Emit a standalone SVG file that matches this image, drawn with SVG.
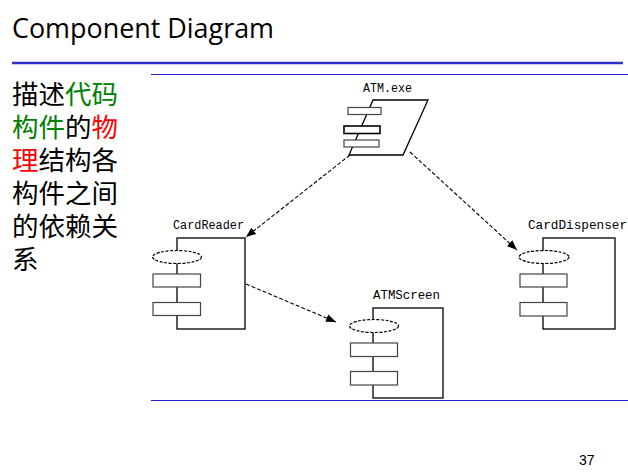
<svg xmlns="http://www.w3.org/2000/svg" width="628" height="475" viewBox="0 0 628 475">
<style>
.title{font-family:"Open Sans","Noto Sans",sans-serif;font-size:27px;fill:#000}
.cn{font-family:"Noto Sans CJK SC",sans-serif;font-size:26.5px;fill:#000}
.g{fill:#008000}
.r{fill:#ff0000}
.lbl{font-family:"Liberation Mono",monospace;font-size:12px;fill:#000}
.box{fill:#fff;stroke:#000;stroke-width:1.3}
.ell{fill:#fff;stroke:#000;stroke-width:1.2;stroke-dasharray:3 1.5}
.part{fill:#fff;stroke:#444;stroke-width:1.2}
.conn{fill:none;stroke:#000;stroke-width:1.1;stroke-dasharray:4 2}
.rule{stroke:#2020d0;stroke-width:1}
</style>
<defs>
<marker id="arr" markerUnits="userSpaceOnUse" markerWidth="10" markerHeight="8" refX="10" refY="4" orient="auto">
<path d="M0,0 L10,4 L0,8 z" fill="#000"/>
</marker>
</defs>
<rect width="628" height="475" fill="#fff"/>
<text class="title" x="12" y="38" textLength="262" lengthAdjust="spacingAndGlyphs">Component Diagram</text>
<line x1="12" y1="63" x2="623" y2="63" stroke="#3030cc" stroke-width="2.6"/>
<line class="rule" x1="151" y1="74.5" x2="628" y2="74.5"/>
<line class="rule" x1="151" y1="400.5" x2="628" y2="400.5"/>
<text class="cn" x="12" y="104">描述<tspan class="g">代码</tspan></text>
<text class="cn" x="12" y="137"><tspan class="g">构件</tspan>的<tspan class="r">物</tspan></text>
<text class="cn" x="12" y="170"><tspan class="r">理</tspan>结构各</text>
<text class="cn" x="12" y="203">构件之间</text>
<text class="cn" x="12" y="236">的依赖关</text>
<text class="cn" x="12" y="269">系</text>
<text x="579" y="465" font-family="Liberation Sans,sans-serif" font-size="14" fill="#000">37</text>
<g id="connectors">
<line class="conn" x1="350" y1="155" x2="246" y2="237" marker-end="url(#arr)"/>
<line class="conn" x1="410" y1="152" x2="517" y2="250" marker-end="url(#arr)"/>
<line class="conn" x1="246" y1="284" x2="336" y2="322" marker-end="url(#arr)"/>
</g>
<g id="atm-exe">
<text class="lbl" x="363" y="92" textLength="49" lengthAdjust="spacingAndGlyphs">ATM.exe</text>
<polygon class="box" points="373,100 428,100 403,155 349,155"/>
<rect class="part" x="348" y="107.5" width="33" height="7"/>
<rect class="part" x="344" y="126" width="36" height="7.5" style="stroke:#000;stroke-width:1.6"/>
<rect class="part" x="344" y="140" width="35" height="7"/>
</g>
<g id="card-reader">
<text class="lbl" x="173" y="229" textLength="71" lengthAdjust="spacingAndGlyphs">CardReader</text>
<rect class="box" x="177" y="238" width="68" height="91"/>
<ellipse class="ell" cx="177" cy="257" rx="24.5" ry="6.5"/>
<rect class="part" x="153" y="274" width="47.5" height="13"/>
<rect class="part" x="153" y="302.5" width="47.5" height="13"/>
</g>
<g id="atm-screen">
<text class="lbl" x="373" y="299" textLength="67" lengthAdjust="spacingAndGlyphs">ATMScreen</text>
<rect class="box" x="373" y="308" width="70" height="90"/>
<ellipse class="ell" cx="374" cy="326" rx="24.5" ry="6.5"/>
<rect class="part" x="350.5" y="343" width="47" height="13.5"/>
<rect class="part" x="350.5" y="371.5" width="47" height="13.5"/>
</g>
<g id="card-dispenser">
<text class="lbl" x="528" y="229" textLength="99" lengthAdjust="spacingAndGlyphs">CardDispenser</text>
<rect class="box" x="543" y="238" width="72" height="91"/>
<ellipse class="ell" cx="544" cy="257" rx="25" ry="6.5"/>
<rect class="part" x="520" y="274" width="47" height="13"/>
<rect class="part" x="520" y="302.5" width="47" height="13.5"/>
</g>
</svg>
